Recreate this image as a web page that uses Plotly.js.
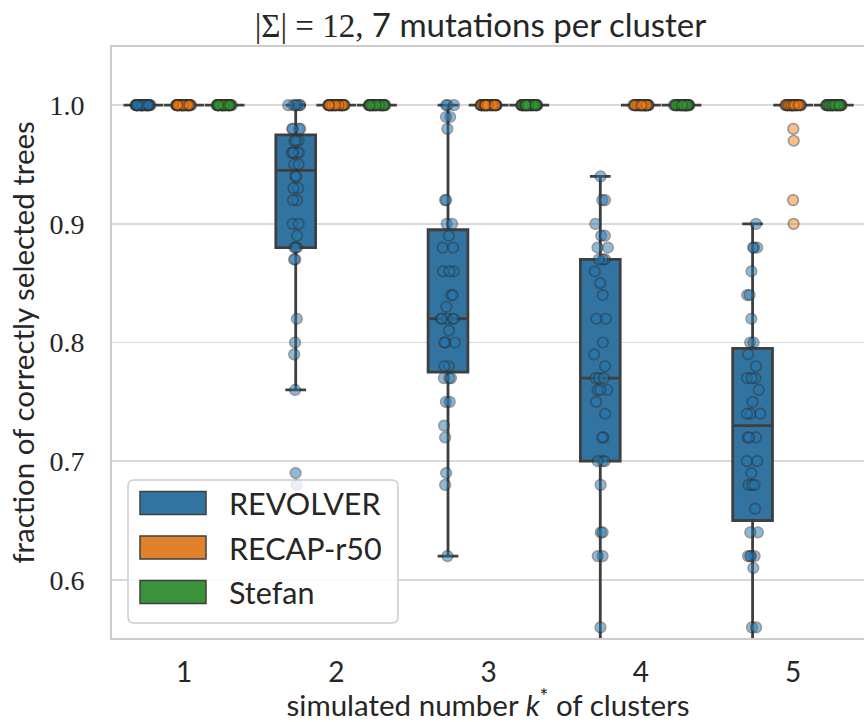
<!DOCTYPE html>
<html>
<head>
<meta charset="utf-8">
<script src="https://cdn.plot.ly/plotly-3.0.1.min.js"></script>
<style>html,body{margin:0;padding:0;background:#fff;}#chart{width:864px;height:722px;}</style>
</head>
<body>
<div id="chart"></div>
<script>
// categories: simulated number k* of clusters
const categories = ['1', '2', '3', '4', '5'];
const seriesNames = ['REVOLVER', 'RECAP-r50', 'Stefan'];
const boxColors = ['#3274a1', '#e1812c', '#3a923a'];
const pointColors = ['#1f77b4', '#ff7f0e', '#2ca02c'];

// REVOLVER values per k
const revolverK1 = [1,1,1,1,1,1,1,1,1,1,1,1,1,1,1,1,1,1,1,1,1,1,1,1,1,1,1,1,1,1,1,1,1,1,1,1,1,1,1,1];
const revolverK2 = [0.68,0.69,0.76,0.79,0.80,0.82,0.87,0.87,0.88,0.88,0.88,0.89,0.90,0.90,0.92,0.92,0.93,0.93,0.94,0.94,
                    0.95,0.95,0.96,0.96,0.96,0.96,0.96,0.97,0.97,0.97,0.98,0.98,0.98,0.98,1,1,1,1,1,1];
const revolverK3 = [0.62,0.68,0.69,0.72,0.73,0.75,0.75,0.77,0.77,0.77,0.78,0.78,0.80,0.80,0.80,0.81,0.82,0.82,0.82,0.82,
                    0.82,0.83,0.84,0.84,0.86,0.86,0.86,0.88,0.88,0.89,0.90,0.90,0.92,0.92,0.98,0.99,0.99,1,1,1];
const revolverK4 = [0.48,0.52,0.56,0.62,0.62,0.64,0.64,0.68,0.70,0.70,0.70,0.72,0.72,0.74,0.75,0.76,0.76,0.76,0.77,0.77,
                    0.77,0.78,0.79,0.80,0.82,0.82,0.84,0.85,0.86,0.87,0.87,0.87,0.88,0.88,0.89,0.89,0.90,0.92,0.92,0.94];
const revolverK5 = [0.50,0.56,0.56,0.61,0.62,0.62,0.62,0.62,0.64,0.64,0.66,0.68,0.68,0.68,0.69,0.70,0.70,0.72,0.72,0.72,
                    0.74,0.74,0.74,0.75,0.76,0.77,0.77,0.77,0.78,0.79,0.80,0.80,0.82,0.84,0.84,0.86,0.88,0.88,0.88,0.90];

// RECAP-r50 values per k
const recapK1 = [1,1,1,1,1,1,1,1,1,1,1,1,1,1,1,1,1,1,1,1,1,1,1,1,1,1,1,1,1,1,1,1,1,1,1,1,1,1,1,1];
const recapK2 = [1,1,1,1,1,1,1,1,1,1,1,1,1,1,1,1,1,1,1,1,1,1,1,1,1,1,1,1,1,1,1,1,1,1,1,1,1,1,1,1];
const recapK3 = [1,1,1,1,1,1,1,1,1,1,1,1,1,1,1,1,1,1,1,1,1,1,1,1,1,1,1,1,1,1,1,1,1,1,1,1,1,1,1,1];
const recapK4 = [1,1,1,1,1,1,1,1,1,1,1,1,1,1,1,1,1,1,1,1,1,1,1,1,1,1,1,1,1,1,1,1,1,1,1,1,1,1,1,1];
const recapK5 = [0.90,0.92,0.97,0.98,1,1,1,1,1,1,1,1,1,1,1,1,1,1,1,1,1,1,1,1,1,1,1,1,1,1,1,1,1,1,1,1,1,1,1,1];

// Stefan values per k
const stefanK1 = [1,1,1,1,1,1,1,1,1,1,1,1,1,1,1,1,1,1,1,1,1,1,1,1,1,1,1,1,1,1,1,1,1,1,1,1,1,1,1,1];
const stefanK2 = [1,1,1,1,1,1,1,1,1,1,1,1,1,1,1,1,1,1,1,1,1,1,1,1,1,1,1,1,1,1,1,1,1,1,1,1,1,1,1,1];
const stefanK3 = [1,1,1,1,1,1,1,1,1,1,1,1,1,1,1,1,1,1,1,1,1,1,1,1,1,1,1,1,1,1,1,1,1,1,1,1,1,1,1,1];
const stefanK4 = [1,1,1,1,1,1,1,1,1,1,1,1,1,1,1,1,1,1,1,1,1,1,1,1,1,1,1,1,1,1,1,1,1,1,1,1,1,1,1,1];
const stefanK5 = [1,1,1,1,1,1,1,1,1,1,1,1,1,1,1,1,1,1,1,1,1,1,1,1,1,1,1,1,1,1,1,1,1,1,1,1,1,1,1,1];

const seriesData = [
  [revolverK1, revolverK2, revolverK3, revolverK4, revolverK5],
  [recapK1, recapK2, recapK3, recapK4, recapK5],
  [stefanK1, stefanK2, stefanK3, stefanK4, stefanK5]
];

const yTickVals = [0.6, 0.7, 0.8, 0.9, 1.0];

const SANS = 'Lato, "Noto Sans", sans-serif';
const SERIF = '"Liberation Serif", "DejaVu Serif", serif';
const TEXT = '#262626';

const traces = seriesNames.map((name, s) => {
  const xs = [], ys = [];
  seriesData[s].forEach((vals, c) => {
    vals.forEach(v => { xs.push(categories[c]); ys.push(v); });
  });
  return {
    type: 'box', name: name, x: xs, y: ys,
    fillcolor: boxColors[s],
    line: {color: '#3f3f3f', width: 2.8},
    whiskerwidth: 0.52,
    boxpoints: 'all', jitter: 0.4, pointpos: 0,
    marker: {color: pointColors[s], size: 10.5, opacity: 0.5, line: {color: '#333333', width: 1.7}},
    showlegend: false, hoverinfo: 'y'
  };
});

// legend drawn as shapes/annotations (seaborn-style wide patches)
const plotW = 864 - 112, plotH = 722 - 47 - 84;
const px = v => v / plotW, py = v => v / plotH;
const lgL = px(16), lgR = px(286), lgB = py(15), lgT = py(158);
const rx = px(6), ry = py(6);
const shapes = [{
  type: 'path', xref: 'paper', yref: 'paper',
  path: `M ${lgL + rx} ${lgB} L ${lgR - rx} ${lgB} Q ${lgR} ${lgB} ${lgR} ${lgB + ry} L ${lgR} ${lgT - ry} Q ${lgR} ${lgT} ${lgR - rx} ${lgT} L ${lgL + rx} ${lgT} Q ${lgL} ${lgT} ${lgL} ${lgT - ry} L ${lgL} ${lgB + ry} Q ${lgL} ${lgB} ${lgL + rx} ${lgB} Z`,
  fillcolor: 'rgba(255,255,255,0.8)', line: {color: '#cccccc', width: 1.5}, layer: 'above'
}];
const annotations = [];
seriesNames.forEach((name, i) => {
  const cy = 135 - 44.5 * i; // px above plot bottom
  shapes.push({
    type: 'rect', xref: 'paper', yref: 'paper',
    x0: px(28), x1: px(94), y0: py(cy - 11.5), y1: py(cy + 11.5),
    fillcolor: boxColors[i], line: {color: '#3f3f3f', width: 1.5}, layer: 'above'
  });
  annotations.push({
    xref: 'paper', yref: 'paper', x: px(115), y: py(cy), xanchor: 'left', yanchor: 'middle',
    text: name, showarrow: false, font: {family: SANS, size: 30.5, color: TEXT}
  });
});

const layout = {
  width: 864, height: 722,
  margin: {l: 112, r: 0, t: 47, b: 84, pad: 0},
  paper_bgcolor: '#ffffff', plot_bgcolor: '#ffffff',
  boxmode: 'group', boxgap: 0.2, boxgroupgap: 0.02,
  showlegend: false,
  title: {
    text: "<span style='font-family:\"Liberation Serif\"'>|Σ| = 12,</span> 7 mutations per cluster",
    font: {family: SANS, size: 33, color: TEXT},
    x: 0.49, xref: 'paper', xanchor: 'center', y: 1 - 25 / 722, yanchor: 'middle'
  },
  xaxis: {
    type: 'category', categoryorder: 'array', categoryarray: categories,
    range: [-0.473, 4.465], showgrid: false, zeroline: false,
    showline: true, mirror: true, linecolor: '#cccccc', linewidth: 2,
    ticks: '', ticklabelstandoff: 8,
    tickfont: {family: SANS, size: 28, color: TEXT},
    title: {text: 'simulated number <i>k</i><sup>*</sup> of clusters', font: {family: SANS, size: 29.5, color: TEXT}, standoff: 0}
  },
  yaxis: {
    range: [0.551, 1.049], tickvals: yTickVals, tickformat: '.1f',
    showgrid: true, gridcolor: '#d9d9d9', gridwidth: 1.5, zeroline: false,
    showline: true, mirror: false, linecolor: '#cccccc', linewidth: 2,
    ticks: '', ticklabelstandoff: 20,
    tickfont: {family: SERIF, size: 28, color: TEXT},
    title: {text: 'fraction of correctly selected trees', font: {family: SANS, size: 29.5, color: TEXT}, standoff: 6}
  },
  shapes: shapes,
  annotations: annotations
};

Plotly.newPlot('chart', traces, layout, {displayModeBar: false, staticPlot: true});
</script>
</body>
</html>
